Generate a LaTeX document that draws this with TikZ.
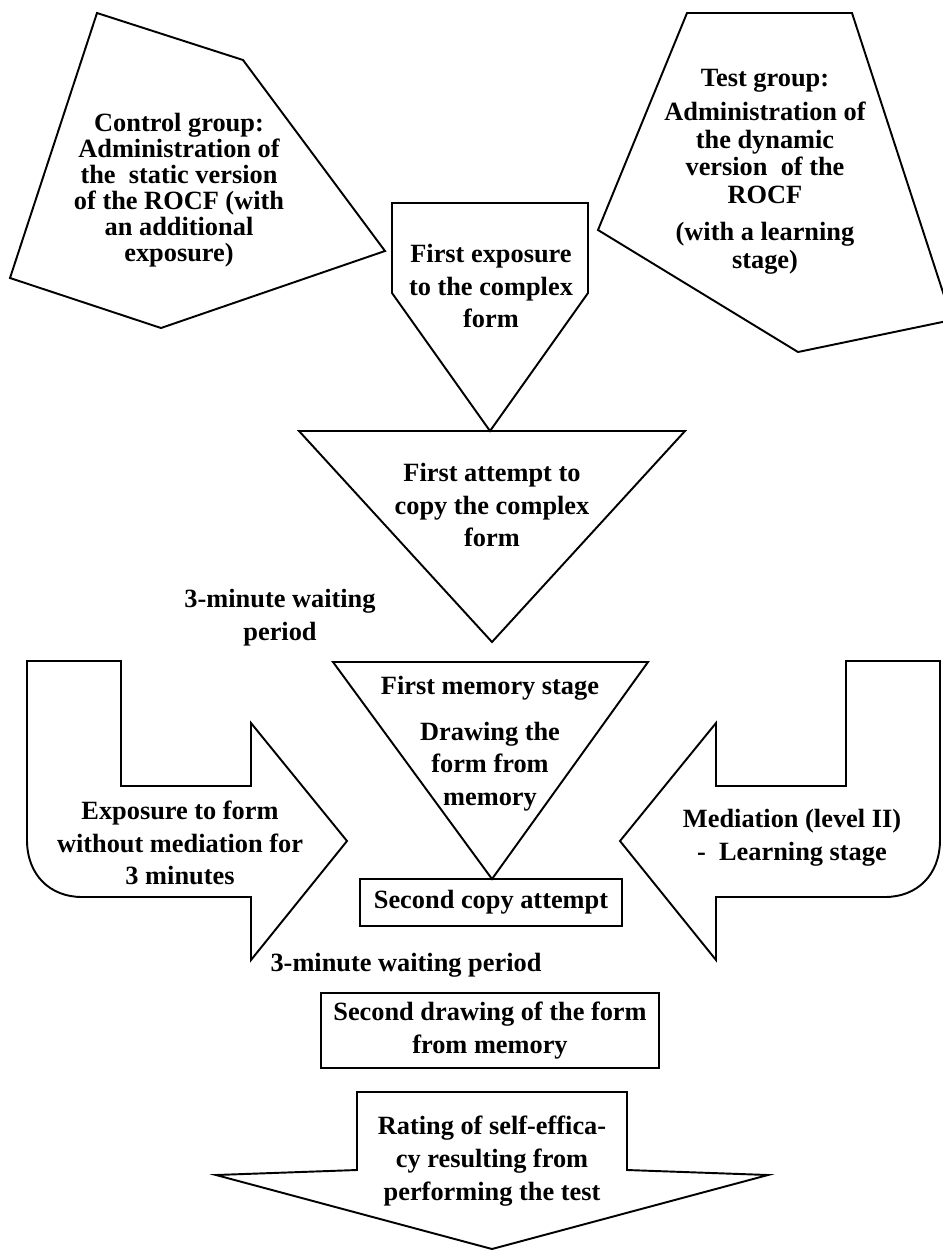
\documentclass[tikz,border=0pt]{standalone}
\usepackage{fontspec}
\setmainfont{Liberation Serif}
\usetikzlibrary{positioning}
\begin{document}
\begin{tikzpicture}[x=0.02cm, y=-0.02cm,
  shp/.style={draw, line width=1.1pt, line join=miter},
  txt/.style={font=\fontsize{15}{18.7}\selectfont\bfseries, align=center, inner sep=0pt},
  tight/.style={txt, font=\fontsize{15}{14.8}\selectfont\bfseries},
  mid/.style={txt, font=\fontsize{15}{15.9}\selectfont\bfseries},
  boxn/.style={txt, draw, line width=1.1pt}
]
\useasboundingbox (0,0) rectangle (943,1252);
\clip (0,0) rectangle (943,1252);

%% Group pentagons (top row)
\draw[shp] (97,13) -- (243,60) -- (385,251) -- (161,328) -- (10,278) -- cycle;
\draw[shp] (687,13) -- (852,13) -- (952,320) -- (798,352) -- (598,230) -- cycle;
\node[tight] (ctrl) at (179,190)
  {Control group:\\Administration of\\the~ static version\\of the ROCF (with\\an additional\\exposure)};
\node[mid] (test) at (765,172)
  {Test group:\\[3pt]Administration of\\the dynamic\\version~ of the\\ROCF\\[5pt](with a learning\\stage)};

%% First exposure and first copy (centre column)
\draw[shp] (392,203) -- (588,203) -- (588,293) -- (490,431) -- (392,293) -- cycle;
\node[txt] (expo1) at (491,286) {First exposure\\to the complex\\form};
\draw[shp] (299,431) -- (685,431) -- (492,642) -- cycle;
\node[txt] (copy1) at (492,505) {First attempt to\\copy the complex\\form};
\node[txt] (wait1) at (280,618) {3-minute waiting\\period};

%% First memory stage
\draw[shp] (333,662) -- (648,662) -- (492,879) -- cycle;
\node[txt] (mem1) at (490,744) {First memory stage\\[7pt]Drawing the\\form from\\memory};

%% Side arrows (control left, test right)
\draw[shp] (27,661) -- (121,661) -- (121,786) -- (251,786) -- (251,723) -- (347,841)
  -- (251,960) -- (251,897) -- (82,897) .. controls (50,897) and (27,875) .. (27,840) -- cycle;
\draw[shp] (940,661) -- (846,661) -- (846,786) -- (716,786) -- (716,723) -- (620,841)
  -- (716,960) -- (716,897) -- (885,897) .. controls (917,897) and (940,875) .. (940,840) -- cycle;
\node[txt] (expoform) at (180,843) {Exposure to form\\without mediation for\\3 minutes};
\node[txt] (mediat) at (792,838) {Mediation (level II)\\-~ Learning stage};

%% Second attempts
\node[boxn, minimum width=5.24cm, minimum height=0.94cm] (copy2) at (491,902.5) {Second copy attempt};
\node[txt] (wait2) at (406,965) {3-minute waiting period};
\node[boxn, minimum width=6.76cm, minimum height=1.5cm] (draw2) at (490,1030.5)
  {Second drawing of the form\\from memory};

%% Rating arrow (bottom)
\draw[shp] (357,1092) -- (627,1092) -- (627,1170) -- (768,1175) -- (492,1249)
  -- (216,1175) -- (357,1170) -- cycle;
\node[txt] (rating) at (492,1161) {Rating of self-effica-\\cy resulting from\\performing the test};
\end{tikzpicture}
\end{document}
